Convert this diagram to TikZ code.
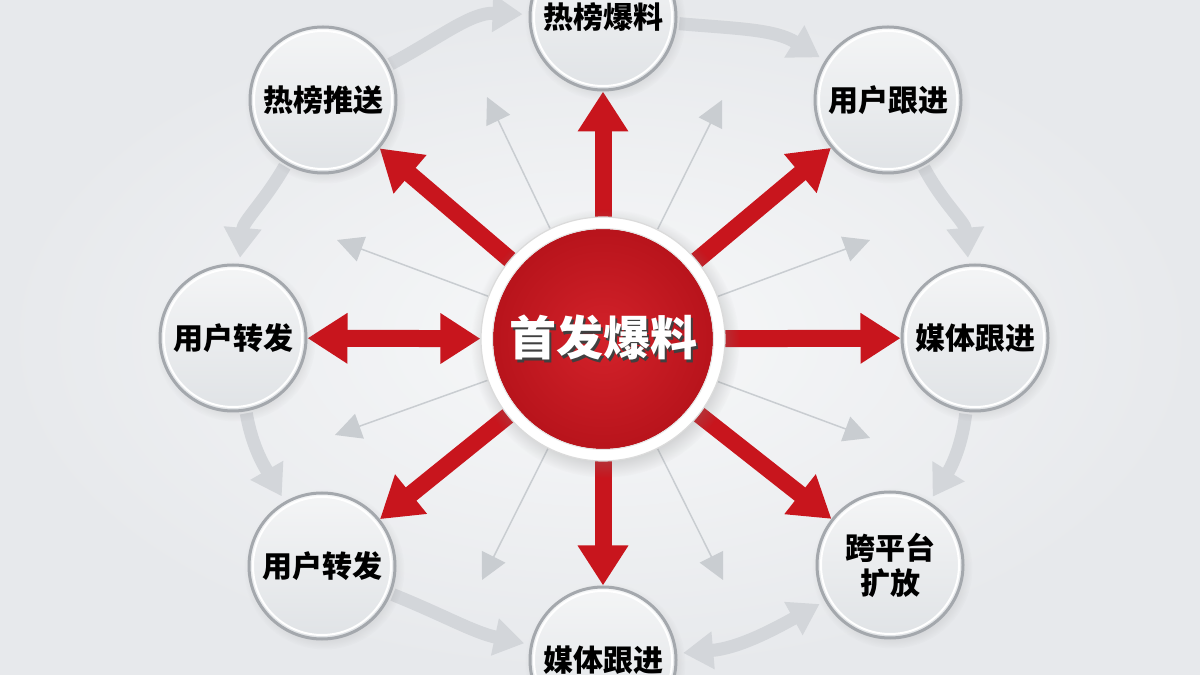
\documentclass[tikz,border=0pt]{standalone}
\usepackage{fontspec}
\newfontfamily\cjk{Noto Sans CJK SC}
\usetikzlibrary{arrows.meta,shadows}
\definecolor{bgin}{HTML}{F7F8F9}
\definecolor{bgout}{HTML}{E7E9EC}
\definecolor{redA}{HTML}{C8151D}
\definecolor{redIn}{HTML}{D3222A}
\definecolor{redOut}{HTML}{B5121A}
\definecolor{ringgray}{HTML}{D3D6DA}
\definecolor{thingray}{HTML}{C9CDD1}
\definecolor{circborder}{HTML}{A4A8AD}
\definecolor{circtop}{HTML}{F4F5F6}
\definecolor{circbot}{HTML}{E0E3E6}
\pgfdeclarelayer{back}
\pgfdeclarelayer{arrowlayer}
\pgfsetlayers{back,arrowlayer,main}
\tikzset{
  outer/.style={circle, minimum size=146pt, inner sep=0pt, draw=circborder, line width=3pt,
    top color=circtop, bottom color=circbot,
    circular drop shadow={shadow xshift=2pt, shadow yshift=-3pt, opacity=0.18},
    font=\cjk\bfseries\fontsize{30}{35}\selectfont, align=center, text=black,
    path picture={\draw[white, line width=2pt] (path picture bounding box.center) circle (69pt);}},
  redarrow/.style={draw=redA, line width=17pt, -{Triangle[width=48pt,length=40pt]}},
  redboth/.style={draw=redA, line width=17pt, {Triangle[width=48pt,length=40pt]}-{Triangle[width=48pt,length=40pt]}},
  ringarrow/.style={draw=ringgray, line width=13pt, -{Triangle[width=36pt,length=30pt]}, shorten >=6pt, shorten <=2pt},
  ringboth/.style={draw=ringgray, line width=13pt, {Triangle[width=36pt,length=30pt]}-{Triangle[width=36pt,length=30pt]}, shorten >=6pt, shorten <=6pt},
  thinarrow/.style={draw=thingray, line width=1.5pt, -{Triangle[width=26pt,length=26pt]}},
}
\begin{document}
\begin{tikzpicture}[x=1pt,y=1pt]
\useasboundingbox (0,0) rectangle (1200,675);
\begin{pgfonlayer}{back}
\shade[inner color=bgin, outer color=bgout] (0,0) rectangle (1200,675);
\end{pgfonlayer}

% central node
\node[circle, minimum size=244pt, inner sep=0pt, fill=white, draw=black!14, line width=1.2pt,
  circular drop shadow={shadow xshift=2pt, shadow yshift=-4pt, opacity=0.3},
  path picture={\shade[inner color=redIn, outer color=redOut] (path picture bounding box.center) circle (110pt);
                \draw[black!10, line width=1pt] (path picture bounding box.center) circle (110.5pt);},
  font=\cjk\bfseries\fontsize{47}{56}\selectfont, text=white]
  (c) at (603,336) {\makebox[0pt][l]{\hspace{2pt}\raisebox{-2.5pt}{\textcolor{black!75}{首发爆料}}}首发爆料};

\node[outer] (hbbl)  at (603,658) {热榜爆料};
\node[outer] (hbts)  at (323,575) {热榜推送};
\node[outer] (yhgj)  at (888,575) {用户跟进};
\node[outer] (yhzf1) at (233,337) {用户转发};
\node[outer] (mtgj1) at (975,337) {媒体跟进};
\node[outer] (yhzf2) at (322,109) {用户转发};
\node[outer] (kpt)   at (890,110) {跨平台\\扩放};
\node[outer] (mtgj2) at (603,15)  {媒体跟进};

% free ends of thin arrows
\coordinate (t1) at (487,578);
\coordinate (t2) at (722,575);
\coordinate (t3) at (337,435);
\coordinate (t4) at (870,435);
\coordinate (t5) at (335,240);
\coordinate (t6) at (870,237);
\coordinate (t7) at (482,95);
\coordinate (t8) at (723,95);

\begin{pgfonlayer}{arrowlayer}
% thin gray arrows
\foreach \t in {t1,t2,t3,t4,t5,t6,t7,t8} \draw[thinarrow] (c) -- (\t);
% ring arrows
\draw[ringarrow] (hbts) to[out=28,in=178] (hbbl);
\draw[ringarrow] (hbbl) to[out=-5,in=148] (yhgj);
\draw[ringarrow] (yhgj) to[out=-62,in=95] (mtgj1);
\draw[ringarrow] (mtgj1) to[out=-97,in=58] (kpt);
\draw[ringboth] (mtgj2) to[out=5,in=209] (kpt);
\draw[ringarrow] (yhzf2) to[out=-22,in=168] (mtgj2);
\draw[ringarrow] (yhzf1) to[out=-80,in=120] (yhzf2);
\draw[ringarrow] (hbts) to[out=-120,in=85] (yhzf1);
% red arrows
\draw[redarrow] (c.center) -- (hbbl);
\draw[redarrow] (c.center) -- (hbts);
\draw[redarrow] (c.center) -- (yhgj);
\draw[redarrow] (c.center) -- (mtgj1);
\draw[redarrow] (c.center) -- (yhzf2);
\draw[redarrow] (c.center) -- (kpt);
\draw[redarrow] (c.center) -- (mtgj2);
\draw[redboth] (c) -- (yhzf1);
\end{pgfonlayer}
\end{tikzpicture}
\end{document}
